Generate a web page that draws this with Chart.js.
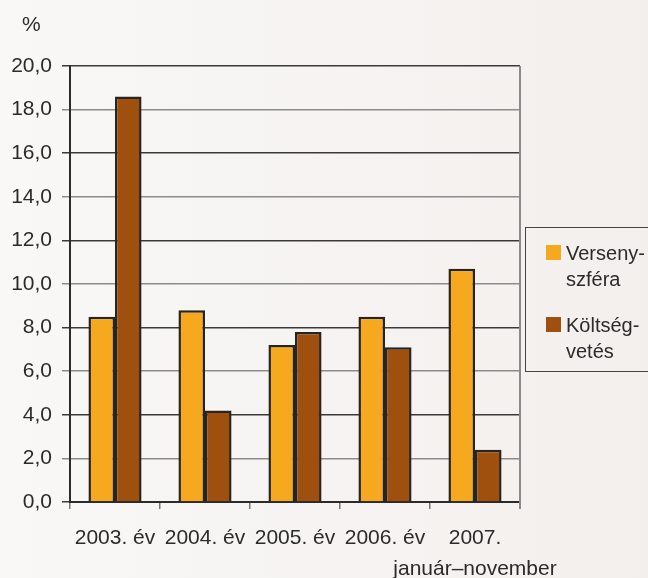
<!DOCTYPE html>
<html>
<head>
<meta charset="utf-8">
<script src="https://cdn.jsdelivr.net/npm/chart.js@4"></script>
<style>
  html, body { margin: 0; padding: 0; }
  body {
    width: 648px; height: 578px; position: relative; overflow: hidden;
    background: linear-gradient(to right, #f9f8f7, #f3efed);
    font-family: "Liberation Sans", Arial, sans-serif;
    color: #2b2b2b;
  }
  #wrap { position: absolute; left: 0; top: 0; width: 648px; height: 578px; }
  #unit { position: absolute; left: 22px; top: 12px; font-size: 21px; }
  #legend {
    position: absolute; left: 525px; top: 227px; width: 140px; height: 145px;
    border: 1.5px solid #444; box-sizing: border-box;
  }
  .item { position: absolute; left: 20px; font-size: 20px; line-height: 26px; }
  .item .sw { position: absolute; left: 0; top: 5px; width: 15px; height: 15px; }
  .item .txt { position: absolute; left: 20px; top: 0; white-space: nowrap; }
</style>
</head>
<body>
<div id="wrap"><canvas id="chart" width="648" height="578"></canvas></div>
<div id="unit">%</div>
<div id="legend"></div>
<script>
'use strict';

let categories = ['2003. év', '2004. év', '2005. év', '2006. év', ['2007.', 'január–november']];
let versenyszfera = [8.5, 8.8, 7.2, 8.5, 10.7];
let koltsegvetes = [18.6, 4.2, 7.8, 7.1, 2.4];
let seriesNames = [['Verseny-', 'szféra'], ['Költség-', 'vetés']];
let seriesColors = ['#f6a81e', '#a0500e'];

let canvasElem = document.getElementById('chart');

let plotBorder = {
  id: 'plotBorder',
  afterDraw(chart) {
    let ctx = chart.ctx;
    let a = chart.chartArea;
    ctx.save();
    ctx.strokeStyle = '#8c8a88';
    ctx.lineWidth = 2;
    ctx.beginPath();
    ctx.moveTo(a.right, a.top);
    ctx.lineTo(a.right, a.bottom + 7);
    ctx.stroke();
    ctx.restore();
  }
};

function renderLegend() {
  let legend = document.getElementById('legend');
  let tops = [12, 84];
  seriesNames.forEach((name, i) => {
    let item = document.createElement('div');
    item.className = 'item';
    item.style.top = tops[i] + 'px';
    item.innerHTML = '<div class="sw" style="background:' + seriesColors[i] + '"></div>' +
      '<div class="txt">' + name.join('<br>') + '</div>';
    legend.appendChild(item);
  });
}

function renderChart() {
  let data = {
    labels: categories,
    datasets: [
      {
        label: 'Versenyszféra',
        data: versenyszfera,
        backgroundColor: seriesColors[0],
        borderColor: '#2a2420',
        borderWidth: 2.5,
        borderSkipped: 'bottom',
      },
      {
        label: 'Költségvetés',
        data: koltsegvetes,
        backgroundColor: seriesColors[1],
        borderColor: '#2a2420',
        borderWidth: 2.5,
        borderSkipped: 'bottom',
      },
    ],
  };

  let tickFont = { family: '"Liberation Sans", Arial, sans-serif', size: 21 };

  let config = {
    type: 'bar',
    data: data,
    options: {
      responsive: false,
      animation: false,
      layout: { padding: { left: 0, right: 128, top: 66, bottom: 0 } },
      datasets: { bar: { categoryPercentage: 0.59, barPercentage: 1 } },
      plugins: { legend: { display: false }, tooltip: { enabled: false } },
      scales: {
        x: {
          afterFit: (scale) => { scale.height = 76; },
          grid: { offset: true, drawOnChartArea: false, tickLength: 7, color: '#777', lineWidth: 1.5 },
          border: { color: '#2b2b2b', width: 2 },
          ticks: {
            color: '#2b2b2b',
            font: { family: tickFont.family, size: 21, lineHeight: 1.5 },
            padding: 13,
            maxRotation: 0,
            autoSkip: false,
          },
        },
        y: {
          min: 0,
          max: 20,
          afterFit: (scale) => { scale.width = 70; },
          grid: {
            color: (c) => (c.tick && c.tick.value % 4 === 0 ? '#3a3a3a' : '#8e8c8a'),
            lineWidth: 1.5,
            tickLength: 8,
          },
          border: { color: '#2b2b2b', width: 2 },
          ticks: {
            stepSize: 2,
            color: '#2b2b2b',
            font: tickFont,
            padding: 10,
            callback: (v) => v.toFixed(1).replace('.', ','),
          },
        },
      },
    },
    plugins: [plotBorder],
  };

  new Chart(canvasElem, config);
}

renderLegend();
renderChart();
</script>
</body>
</html>
